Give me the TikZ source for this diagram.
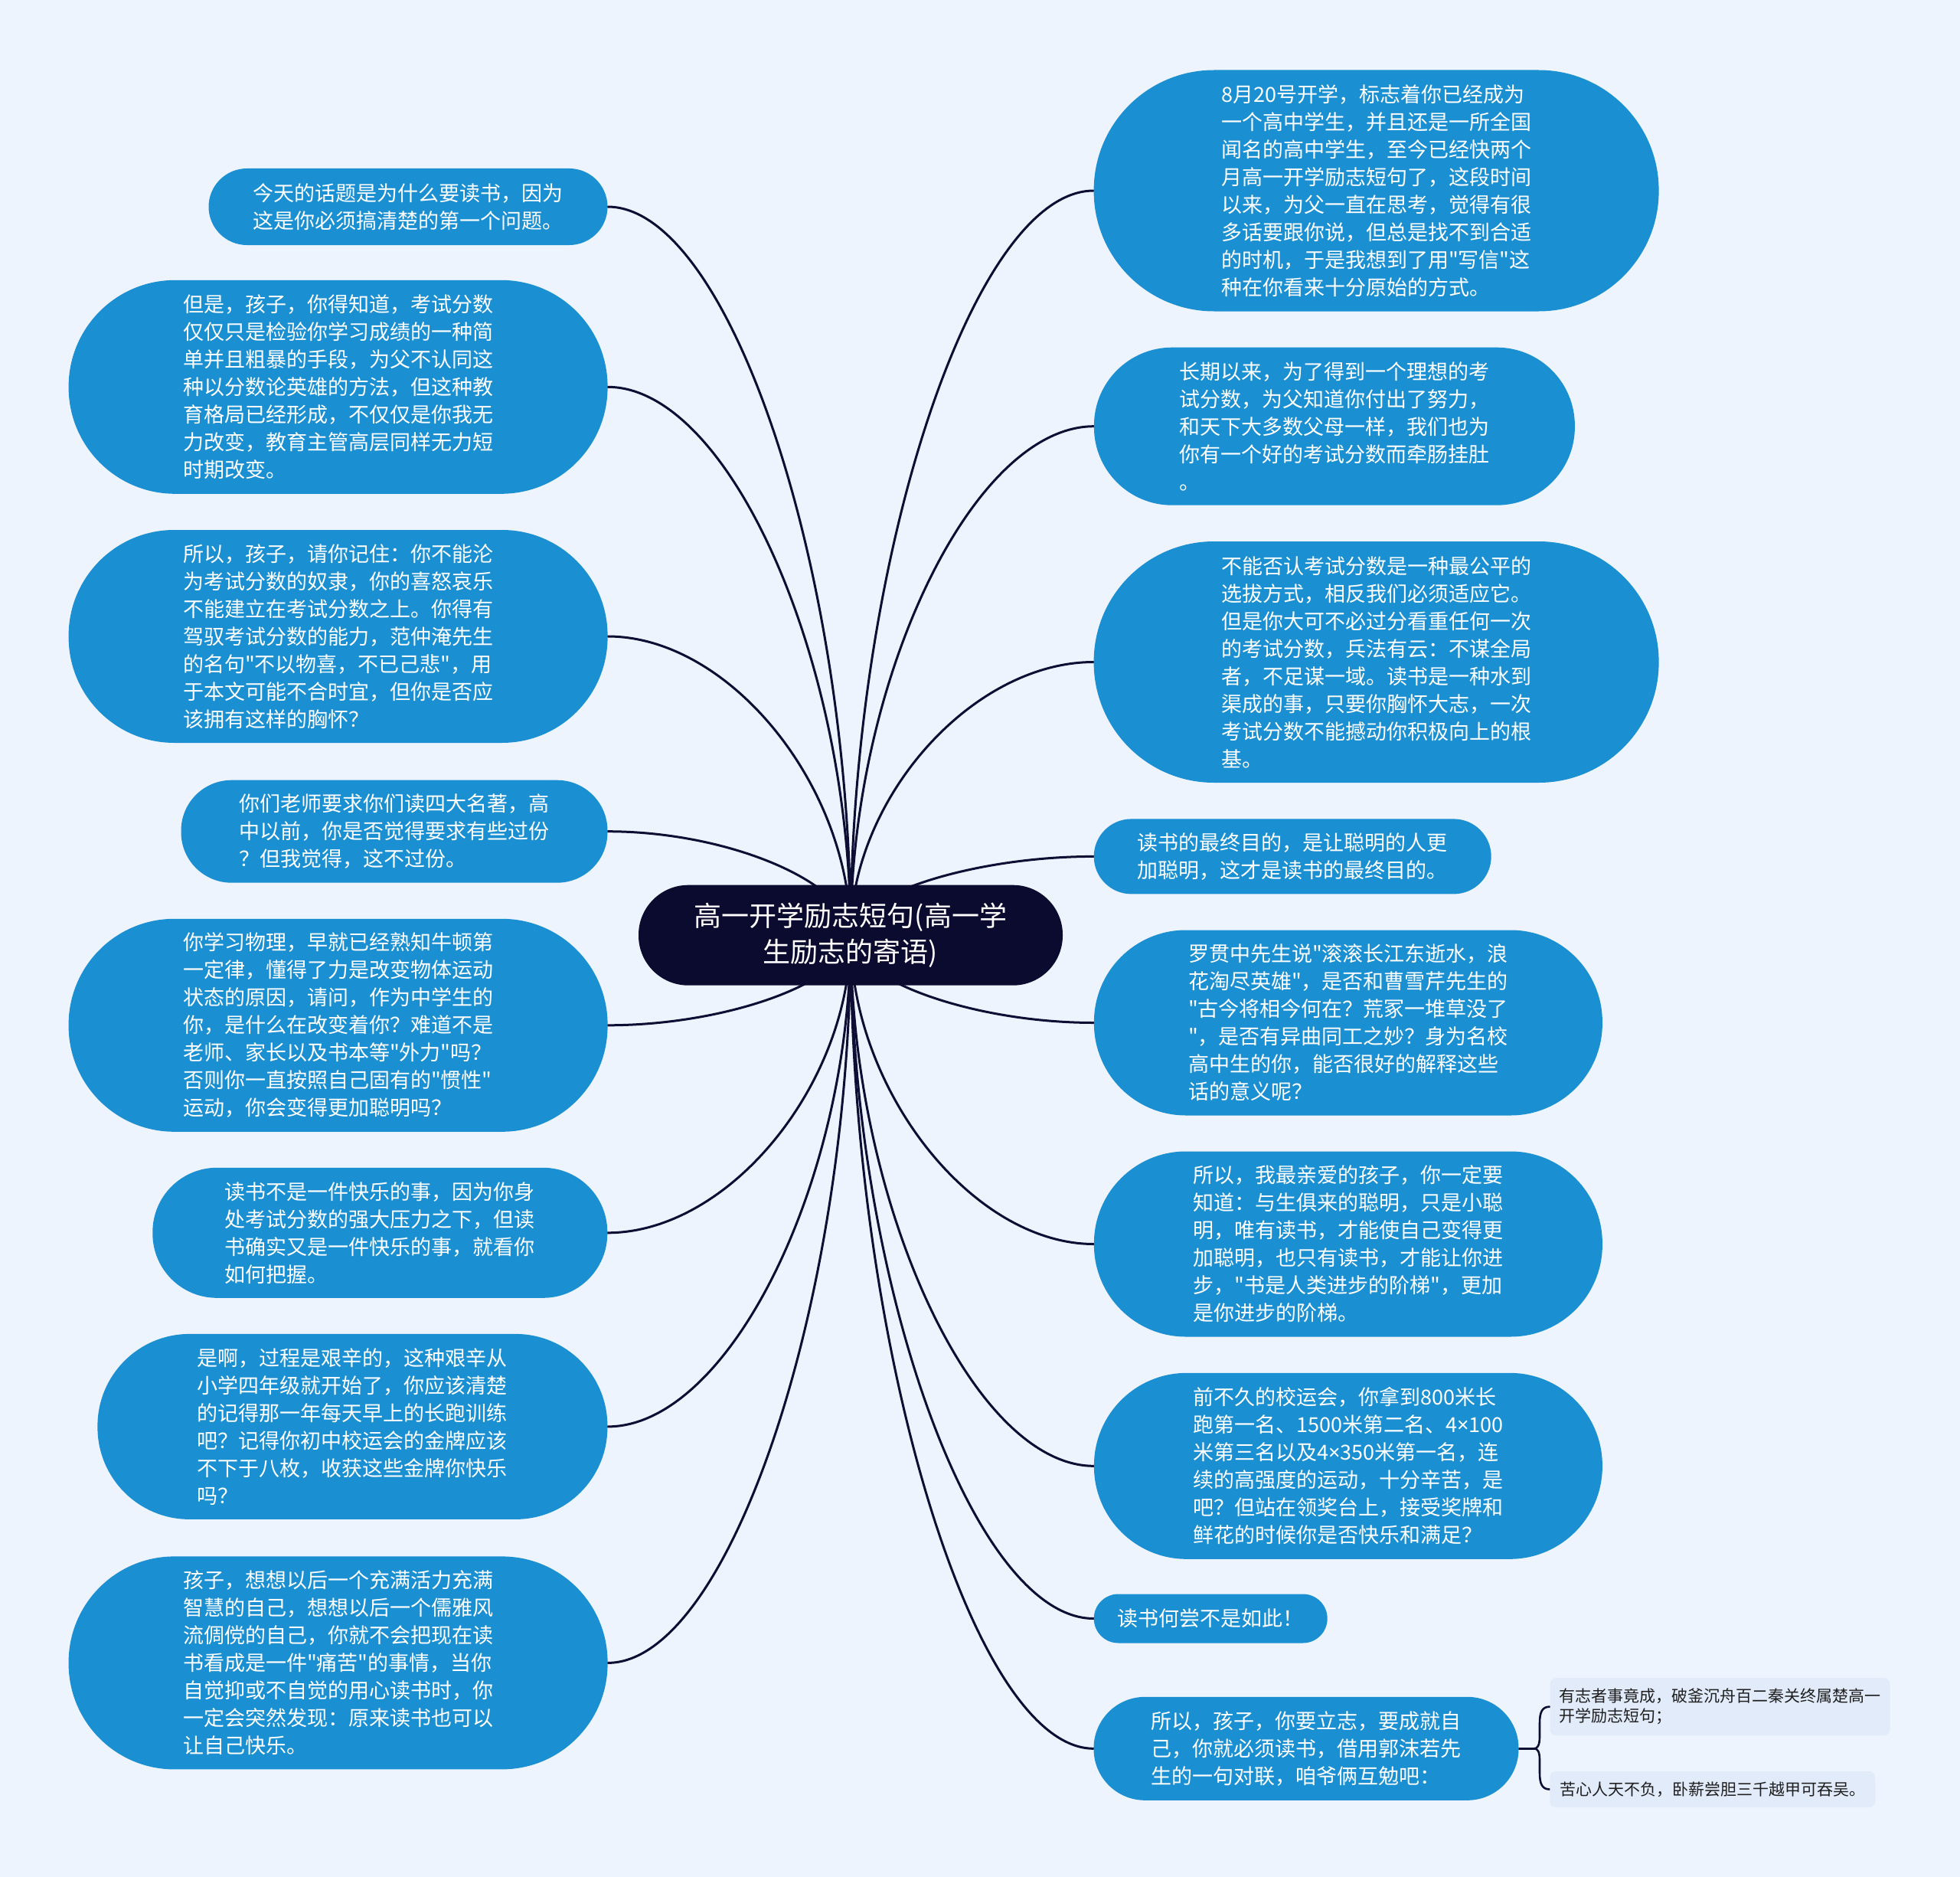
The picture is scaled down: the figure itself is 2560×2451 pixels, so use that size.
\documentclass[tikz,border=0pt]{standalone}
\usepackage{fontspec}
\setmainfont{Noto Sans CJK SC}[Ligatures=TeXOff]
\newfontfamily\latinsans{Noto Sans}[Ligatures=TeXOff]
\usetikzlibrary{calc}
\definecolor{bgcol}{HTML}{EEF4FD}
\definecolor{nodeblue}{HTML}{1A8FD1}
\definecolor{rootcol}{HTML}{0B0A2F}
\definecolor{linecol}{HTML}{0E0D33}
\definecolor{subfill}{HTML}{E2EBFA}
\definecolor{subtext}{HTML}{1F1F1F}
\pgfdeclarelayer{back}
\pgfdeclarelayer{links}
\pgfsetlayers{back,links,main}
\tikzset{
  box/.style={fill=nodeblue, text=white, font=\fontsize{27}{36}\selectfont, align=left, inner sep=0pt},
  rootbox/.style={fill=rootcol, text=white, font=\fontsize{36}{47}\selectfont, align=center, inner sep=0pt},
  subbox/.style={fill=subfill, text=subtext, font=\fontsize{21}{26}\selectfont, align=left, inner sep=0pt, rounded corners=8pt},
  conn/.style={draw=linecol, line width=3pt, line cap=round},
  braceline/.style={draw=linecol, line width=2.6pt, line cap=round},
}
\newcommand{\rootlink}[2]{%
  \draw[conn] (root.center) .. controls ($(root.center)!0.5!(root.center |- #1.#2)$) and ($(#1.#2)!0.5!(#1.#2 -| root.center)$) .. (#1.#2);}
\newcommand{\tms}{{\latinsans ×}}
\begin{document}
\begin{tikzpicture}[x={(1pt,0pt)}, y={(0pt,-1pt)}]
\useasboundingbox (0,0) rectangle (2560,2451);
\begin{pgfonlayer}{back}
  \fill[bgcol] (0,0) rectangle (2560,2451);
\end{pgfonlayer}

% root
\node[rootbox, minimum width=554pt, minimum height=131pt, rounded corners=65pt] (root) at (1111,1221.2)
  {高一开学励志短句(高一学\\生励志的寄语)};

% left nodes
\node[box, minimum width=521pt, minimum height=100pt, rounded corners=50pt] (L1) at (533,270)
  {今天的话题是为什么要读书，因为\\这是你必须搞清楚的第一个问题。};
\node[box, minimum width=704pt, minimum height=279pt, rounded corners=139pt] (L2) at (441.6,505.3)
  {但是，孩子，你得知道，考试分数\\仅仅只是检验你学习成绩的一种简\\单并且粗暴的手段，为父不认同这\\种以分数论英雄的方法，但这种教\\育格局已经形成，不仅仅是你我无\\力改变，教育主管高层同样无力短\\时期改变。};
\node[box, minimum width=704pt, minimum height=278pt, rounded corners=138pt] (L3) at (441.6,831)
  {所以，孩子，请你记住：你不能沦\\为考试分数的奴隶，你的喜怒哀乐\\不能建立在考试分数之上。你得有\\驾驭考试分数的能力，范仲淹先生\\的名句"不以物喜，不已己悲"，用\\于本文可能不合时宜，但你是否应\\该拥有这样的胸怀？};
\node[box, minimum width=557pt, minimum height=134pt, rounded corners=66pt] (L4) at (515,1085.7)
  {你们老师要求你们读四大名著，高\\中以前，你是否觉得要求有些过份\\？但我觉得，这不过份。};
\node[box, minimum width=704pt, minimum height=278pt, rounded corners=138pt] (L5) at (441.6,1338.8)
  {你学习物理，早就已经熟知牛顿第\\一定律，懂得了力是改变物体运动\\状态的原因，请问，作为中学生的\\你，是什么在改变着你？难道不是\\老师、家长以及书本等"外力"吗？\\否则你一直按照自己固有的"惯性"\\运动，你会变得更加聪明吗？};
\node[box, minimum width=594pt, minimum height=170pt, rounded corners=84pt] (L6) at (496.3,1609.8)
  {读书不是一件快乐的事，因为你身\\处考试分数的强大压力之下，但读\\书确实又是一件快乐的事，就看你\\如何把握。};
\node[box, minimum width=666pt, minimum height=242pt, rounded corners=120pt] (L7) at (460.4,1862.9)
  {是啊，过程是艰辛的，这种艰辛从\\小学四年级就开始了，你应该清楚\\的记得那一年每天早上的长跑训练\\吧？记得你初中校运会的金牌应该\\不下于八枚，收获这些金牌你快乐\\吗？};
\node[box, minimum width=704pt, minimum height=278pt, rounded corners=138pt] (L8) at (441.6,2171.4)
  {孩子，想想以后一个充满活力充满\\智慧的自己，想想以后一个儒雅风\\流倜傥的自己，你就不会把现在读\\书看成是一件"痛苦"的事情，当你\\自觉抑或不自觉的用心读书时，你\\一定会突然发现：原来读书也可以\\让自己快乐。};

% right nodes
\node[box, minimum width=738pt, minimum height=315pt, rounded corners=157pt] (R1) at (1797.6,249)
  {8月20号开学，标志着你已经成为\\一个高中学生，并且还是一所全国\\闻名的高中学生，至今已经快两个\\月高一开学励志短句了，这段时间\\以来，为父一直在思考，觉得有很\\多话要跟你说，但总是找不到合适\\的时机，于是我想到了用"写信"这\\种在你看来十分原始的方式。};
\node[box, minimum width=628pt, minimum height=206pt, rounded corners=102pt] (R2) at (1742.9,556.7)
  {长期以来，为了得到一个理想的考\\试分数，为父知道你付出了努力，\\和天下大多数父母一样，我们也为\\你有一个好的考试分数而牵肠挂肚\\。};
\node[box, minimum width=738pt, minimum height=315pt, rounded corners=157pt] (R3) at (1797.6,864.5)
  {不能否认考试分数是一种最公平的\\选拔方式，相反我们必须适应它。\\但是你大可不必过分看重任何一次\\的考试分数，兵法有云：不谋全局\\者，不足谋一域。读书是一种水到\\渠成的事，只要你胸怀大志，一次\\考试分数不能撼动你积极向上的根\\基。};
\node[box, minimum width=519pt, minimum height=98pt, rounded corners=49pt] (R4) at (1688.2,1118.4)
  {读书的最终目的，是让聪明的人更\\加聪明，这才是读书的最终目的。};
\node[box, minimum width=664pt, minimum height=242pt, rounded corners=120pt] (R5) at (1760.9,1335.5)
  {罗贯中先生说"滚滚长江东逝水，浪\\花淘尽英雄"，是否和曹雪芹先生的\\"古今将相今何在？荒冢一堆草没了\\"，是否有异曲同工之妙？身为名校\\高中生的你，能否很好的解释这些\\话的意义呢？};
\node[box, minimum width=664pt, minimum height=242pt, rounded corners=120pt] (R6) at (1760.9,1624.5)
  {所以，我最亲爱的孩子，你一定要\\知道：与生俱来的聪明，只是小聪\\明，唯有读书，才能使自己变得更\\加聪明，也只有读书，才能让你进\\步，"书是人类进步的阶梯"，更加\\是你进步的阶梯。};
\node[box, minimum width=664pt, minimum height=243pt, rounded corners=121pt] (R7) at (1760.9,1914.3)
  {前不久的校运会，你拿到800米长\\跑第一名、1500米第二名、4\tms 100\\米第三名以及4\tms 350米第一名，连\\续的高强度的运动，十分辛苦，是\\吧？但站在领奖台上，接受奖牌和\\鲜花的时候你是否快乐和满足？};
\node[box, minimum width=305pt, minimum height=64pt, rounded corners=32pt] (R8) at (1581.2,2113.5)
  {读书何尝不是如此！};
\node[box, minimum width=555pt, minimum height=135pt, rounded corners=67pt] (R9) at (1706,2283.3)
  {所以，孩子，你要立志，要成就自\\己，你就必须读书，借用郭沫若先\\生的一句对联，咱爷俩互勉吧：};

% sub nodes
\node[subbox, minimum width=444pt, minimum height=75pt] (S1) at (2246.5,2228.6)
  {有志者事竟成，破釜沉舟百二秦关终属楚高一\\开学励志短句；};
\node[subbox, minimum width=425pt, minimum height=47pt] (S2) at (2236.8,2336.5)
  {苦心人天不负，卧薪尝胆三千越甲可吞吴。};

\coordinate (bj) at (2004,2283.3);

\begin{pgfonlayer}{links}
  \foreach \n in {L1,L2,L3,L4,L5,L6,L7,L8} {\rootlink{\n}{east}}
  \foreach \n in {R1,R2,R3,R4,R5,R6,R7,R8,R9} {\rootlink{\n}{west}}
  \draw[conn] (R9.east) -- (bj);
  \draw[braceline] (S1.west) .. controls (2014,2228.6) and (2011,2236) .. (2011,2250)
     -- (2011,2268) .. controls (2011,2279) and (2008,2283.3) .. (bj);
  \draw[braceline] (S2.west) .. controls (2014,2336.5) and (2011,2329) .. (2011,2315)
     -- (2011,2298) .. controls (2011,2287) and (2008,2283.3) .. (bj);
\end{pgfonlayer}
\end{tikzpicture}
\end{document}
